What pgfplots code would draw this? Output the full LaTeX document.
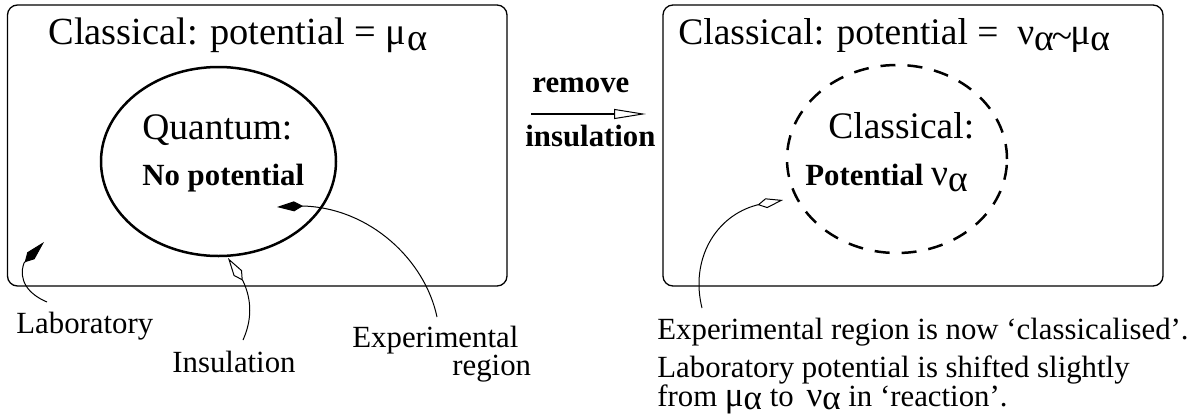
\documentclass[border=0pt]{standalone}
\usepackage{fontspec}
\setmainfont{Liberation Serif}
\usepackage{pgfplots}
\pgfplotsset{compat=1.18}
\usetikzlibrary{arrows.meta}
\newcommand{\sa}{\raisebox{-0.16em}{α}}
\newcommand{\salow}{\raisebox{-0.1em}{α}}
\newcommand{\BigF}{\fontsize{18.75pt}{22pt}\selectfont}
\newcommand{\MidF}{\fontsize{15.4pt}{18pt}\selectfont}
\begin{document}
\begin{tikzpicture}
\begin{axis}[scale only axis, width=597.5pt, height=209pt,
  xmin=0, xmax=1195, ymin=0, ymax=418, y dir=reverse,
  hide axis, clip=false]
\addplot[draw=none] coordinates {(0,0) (1195,418)};
% boxes
\draw[line width=0.65pt, rounded corners=5pt] (axis cs:7.5,5) rectangle (axis cs:507,286);
\draw[line width=0.65pt, rounded corners=5pt] (axis cs:663,5) rectangle (axis cs:1163,286);
% ellipses
\draw[line width=1.25pt] (axis cs:218.5,161.5) ellipse [x radius=58.75pt, y radius=47.25pt];
\draw[line width=1.25pt, dash pattern=on 7.5pt off 6pt] (axis cs:897,159) ellipse [x radius=55pt, y radius=47pt];
% titles
\node[anchor=base west, inner sep=0, font=\fontsize{19.2pt}{22pt}\selectfont] at (axis cs:48,44) {Classical: potential = μ\kern0.03em\sa};
\node[anchor=base west, inner sep=0, font=\BigF] at (axis cs:678,44) {Classical: potential = \ ν\sa\kern-0.05em\raisebox{-0.12em}{\textasciitilde}\kern-0.05em μ\sa};
% inner texts
\node[anchor=base west, inner sep=0, font=\BigF] at (axis cs:142,139) {Quantum:};
\node[anchor=base west, inner sep=0, font=\MidF\bfseries] at (axis cs:142,185) {No potential};
\node[anchor=base west, inner sep=0, font=\BigF] at (axis cs:828,138) {Classical:};
\node[anchor=base west, inner sep=0, font=\MidF] at (axis cs:805,185) {\textbf{Potential} \BigF ν\sa};
% middle arrow
\node[anchor=base west, inner sep=0, font=\MidF\bfseries] at (axis cs:532,92) {remove};
\node[anchor=base west, inner sep=0, font=\MidF\bfseries] at (axis cs:525,146) {insulation};
\draw[line width=1.35pt, -{Triangle[open, length=16pt, width=5pt, line width=0.5pt]}] (axis cs:531,114) -- (axis cs:646,114);
% pointer arrows
\draw[line width=0.5pt, -{Kite[length=14pt, width=5pt, inset=4.5pt]}] (axis cs:47,302) .. controls (axis cs:28,294) and (axis cs:18,280) .. (axis cs:24,263) -- (axis cs:44,242);
\draw[line width=0.5pt, -{Kite[open, length=13.5pt, width=5pt, inset=4.5pt, line width=0.5pt]}] (axis cs:243,340) .. controls (axis cs:252,320) and (axis cs:252,300) .. (axis cs:243,281) -- (axis cs:228,258);
\draw[line width=0.5pt, -{Kite[length=13pt, width=5pt, inset=4.5pt]}] (axis cs:437,317) .. controls (axis cs:425,260) and (axis cs:370,208) .. (axis cs:303,206) -- (axis cs:277,207);
\draw[line width=0.5pt, -{Kite[open, length=13pt, width=5pt, inset=4.5pt, line width=0.5pt]}] (axis cs:702,308) .. controls (axis cs:690,260) and (axis cs:715,216) .. (axis cs:757,205) -- (axis cs:783,200);
% labels
\node[anchor=base west, inner sep=0, font=\MidF] at (axis cs:16,333) {Laboratory};
\node[anchor=base west, inner sep=0, font=\MidF] at (axis cs:172,372) {Insulation};
\node[anchor=base west, inner sep=0, font=\MidF] at (axis cs:352,347) {Experimental};
\node[anchor=base west, inner sep=0, font=\MidF] at (axis cs:452,375) {region};
\node[anchor=base west, inner sep=0, font=\MidF] at (axis cs:657,339) {Experimental region is now ‘classicalised’.};
\node[anchor=base west, inner sep=0, font=\MidF] at (axis cs:657,377) {Laboratory potential is shifted slightly};
\node[anchor=base west, inner sep=0, font=\MidF] at (axis cs:657,406) {from {\fontsize{17.5pt}{20pt}\selectfont μ\salow} to \,{\fontsize{17.5pt}{20pt}\selectfont ν\salow} in ‘reaction’.};
\end{axis}
\pgfresetboundingbox
\path (current axis.south west) rectangle (current axis.north east);
\end{tikzpicture}
\end{document}
